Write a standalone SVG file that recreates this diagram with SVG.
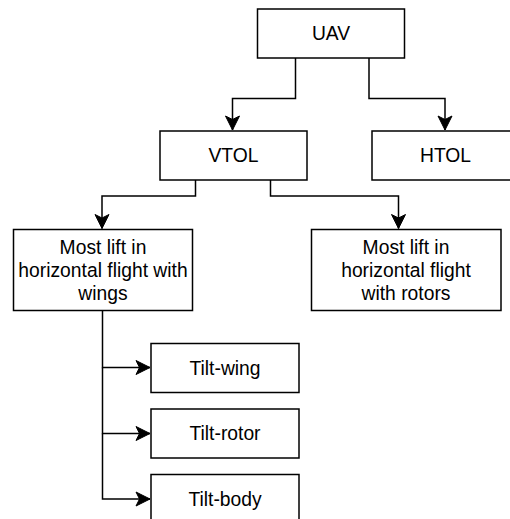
<svg xmlns="http://www.w3.org/2000/svg" width="510" height="519" viewBox="0 0 510 519">
<style>
.box{fill:#fff;stroke:#000;stroke-width:1.5}
.t{font-family:"Liberation Sans",Arial,sans-serif;font-size:19.3px;fill:#000;text-anchor:middle;dominant-baseline:central}
.c{fill:none;stroke:#000;stroke-width:1.5}
</style>
<defs>
<marker id="ah" markerUnits="userSpaceOnUse" markerWidth="18" markerHeight="18" viewBox="-15 -9 18 18" refX="0" refY="0" orient="auto">
<path d="M0,0 L-14,-7 L-10.5,0 L-14,7 Z" fill="#000" stroke="#000" stroke-width="1"/>
</marker>
</defs>
<g id="connectors">
<path class="c" d="M295.5,58 V98.5 H232.5 V130" marker-end="url(#ah)"/>
<path class="c" d="M369,58 V98.5 H445 V130" marker-end="url(#ah)"/>
<path class="c" d="M195.5,180 V196 H102 V228.5" marker-end="url(#ah)"/>
<path class="c" d="M270.5,180 V196 H398.5 V228.5" marker-end="url(#ah)"/>
<path class="c" d="M102.5,311 V367.5 H150" marker-end="url(#ah)"/>
<path class="c" d="M102.5,367.5 V433.5 H150" marker-end="url(#ah)"/>
<path class="c" d="M102.5,433.5 V499 H150" marker-end="url(#ah)"/>
</g>
<g id="uav"><rect class="box" x="257.5" y="9" width="147" height="49"/><text class="t" x="331" y="33.5">UAV</text></g>
<g id="vtol"><rect class="box" x="160" y="131" width="147" height="49"/><text class="t" x="233.5" y="155.5">VTOL</text></g>
<g id="htol"><rect class="box" x="372" y="131" width="147" height="49"/><text class="t" x="445.5" y="155.5">HTOL</text></g>
<g id="wings"><rect class="box" x="13.5" y="229.5" width="179" height="81"/><text class="t" x="103" y="247">Most lift in</text><text class="t" x="103" y="270">horizontal flight with</text><text class="t" x="103" y="293">wings</text></g>
<g id="rotors"><rect class="box" x="311.5" y="229.5" width="189.5" height="81"/><text class="t" x="406" y="247">Most lift in</text><text class="t" x="406" y="270">horizontal flight</text><text class="t" x="406" y="293">with rotors</text></g>
<g id="tiltwing"><rect class="box" x="151" y="343.5" width="148" height="49"/><text class="t" x="225" y="368">Tilt-wing</text></g>
<g id="tiltrotor"><rect class="box" x="151" y="409" width="148" height="49"/><text class="t" x="225" y="433.5">Tilt-rotor</text></g>
<g id="tiltbody"><rect class="box" x="151" y="474.5" width="148" height="49"/><text class="t" x="225" y="499">Tilt-body</text></g>
</svg>
